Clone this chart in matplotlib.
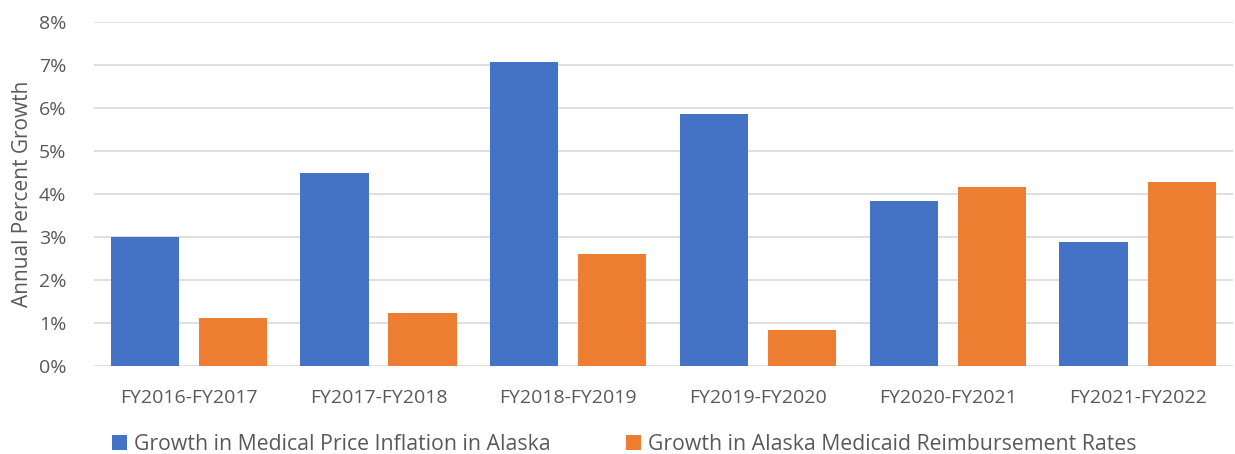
import numpy as np
import matplotlib.pyplot as plt

categories = ['FY2016-FY2017', 'FY2017-FY2018', 'FY2018-FY2019',
              'FY2019-FY2020', 'FY2020-FY2021', 'FY2021-FY2022']
price_inflation = [3.01, 4.49, 7.06, 5.86, 3.84, 2.90]
medicaid_rates = [1.13, 1.24, 2.61, 0.85, 4.17, 4.28]
series_names = ['Growth in Medical Price Inflation in Alaska',
                'Growth in Alaska Medicaid Reimbursement Rates']
yticks = [0, 1, 2, 3, 4, 5, 6, 7, 8]

plt.rcParams['font.family'] = ['Open Sans', 'DejaVu Sans']
text_color = '#595959'

fig = plt.figure(figsize=(12.35, 4.54), dpi=100)
ax = fig.add_axes([0.076, 0.193, 0.922, 0.7585])

x = np.arange(len(categories))
offset = 0.232
width = 0.36
ax.bar(x - offset, price_inflation, width, color='#4472C4', label=series_names[0], zorder=3)
ax.bar(x + offset, medicaid_rates, width, color='#ED7D31', label=series_names[1], zorder=3)

ax.set_xlim(-0.5, len(categories) - 0.5)
ax.set_ylim(0, 8)
ax.set_yticks(yticks)
ax.set_yticklabels([f'{t}%' for t in yticks])
ax.set_xticks(x)
ax.set_xticklabels(categories)
ax.yaxis.grid(True, color='#D9D9D9', linewidth=1.2, zorder=0)
ax.tick_params(axis='both', length=0, labelsize=14, colors=text_color)
ax.tick_params(axis='y', pad=20)
ax.tick_params(axis='x', pad=16)
for s in ax.spines.values():
    s.set_visible(False)
ax.set_ylabel('Annual Percent Growth', fontsize=15, color=text_color, labelpad=4)

fig.legend(loc='lower left', bbox_to_anchor=(0.075, -0.045), ncol=2, frameon=False,
           fontsize=15.3, labelcolor=text_color, handlelength=0.7, handleheight=0.7,
           handletextpad=0.35, columnspacing=3.55)

fig.savefig('out.png', dpi=100)
